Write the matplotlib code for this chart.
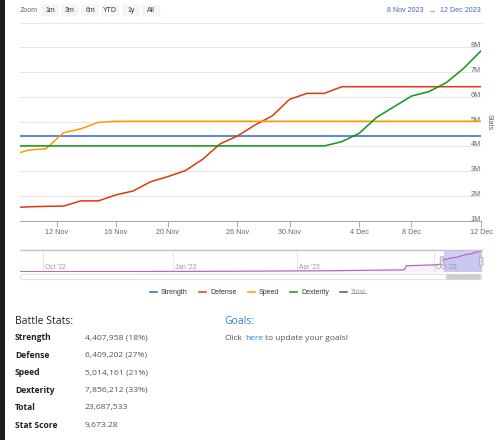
import matplotlib
matplotlib.use('Agg')
import matplotlib.pyplot as plt
from matplotlib.patches import FancyBboxPatch, Rectangle
from matplotlib.lines import Line2D

W, H = 500, 440

# ---------------- data (values in millions) ----------------
point_index = list(range(28))
strength = [4.408, 4.408, 4.408, 4.408, 4.408, 4.408, 4.408, 4.408, 4.408, 4.408,
            4.408, 4.408, 4.408, 4.408, 4.408, 4.408, 4.408, 4.408, 4.408, 4.408,
            4.408, 4.408, 4.408, 4.408, 4.408, 4.408, 4.408, 4.408]
defense = [1.53, 1.56, 1.58, 1.59, 1.80, 1.80, 2.04, 2.20, 2.57, 2.78,
           3.02, 3.48, 4.10, 4.42, 4.86, 5.23, 5.90, 6.14, 6.14, 6.409,
           6.409, 6.409, 6.409, 6.409, 6.409, 6.409, 6.409, 6.409]
speed = [3.65, 3.85, 3.91, 4.55, 4.71, 4.97, 5.014, 5.014, 5.014, 5.014,
         5.014, 5.014, 5.014, 5.014, 5.014, 5.014, 5.014, 5.014, 5.014, 5.014,
         5.014, 5.014, 5.014, 5.014, 5.014, 5.014, 5.014, 5.014]
dexterity = [4.02, 4.02, 4.02, 4.02, 4.02, 4.02, 4.02, 4.02, 4.02, 4.02,
             4.02, 4.02, 4.02, 4.02, 4.02, 4.02, 4.02, 4.02, 4.02, 4.19,
             4.53, 5.17, 5.60, 6.03, 6.21, 6.57, 7.15, 7.856]
series_names = ['Strength', 'Defense', 'Speed', 'Dexterity']
series_colors = ['#3366cc', '#dc3912', '#ff9900', '#109618']

x_tick_labels = ['12 Nov', '16 Nov', '20 Nov', '26 Nov', '30 Nov', '4 Dec', '8 Dec', '12 Dec']
y_tick_values = [1, 2, 3, 4, 5, 6, 7, 8]
y_tick_labels = ['1M', '2M', '3M', '4M', '5M', '6M', '7M', '8M']

# navigator history of total (before the selected window)
nav_hist_pos = [0.0, 0.20, 0.45, 0.67, 0.832, 0.836, 0.895, 0.912]
nav_hist_total = [0.4, 0.5, 0.8, 1.4, 2.4, 6.9, 7.8, 8.6]
nav_labels = ["Oct '22", "Jan '23", "Apr '23", "Oct '23"]

zoom_buttons = ['1m', '3m', '6m', 'YTD', '1y', 'All']
date_from, date_to = '8 Nov 2023', '12 Dec 2023'

stat_labels = ['Strength', 'Defense', 'Speed', 'Dexterity', 'Total', 'Stat Score']
stat_values = ['4,407,958 (18%)', '6,409,202 (27%)', '5,014,161 (21%)',
               '7,856,212 (33%)', '23,687,533', '9,673.28']

# ---------------- figure ----------------
CH = ['Liberation Sans', 'DejaVu Sans']
TX = ['Open Sans', 'DejaVu Sans']
plt.rcParams['font.family'] = CH

fig = plt.figure(figsize=(W / 100, H / 100), dpi=100)
fig.patch.set_facecolor('white')

def fx(px):
    return px / W

def fy(py):
    return 1 - py / H

# main chart
ax = fig.add_axes([fx(20), fy(220.7), 461 / W, 173.4 / H])
ax.patch.set_alpha(0)
for name, vals, col in zip(series_names, [strength, defense, speed, dexterity], series_colors):
    ax.plot(point_index, vals, color=col, lw=1.1, label=name, solid_joinstyle='round')
ax.set_xlim(0.5, 27)
ax.set_ylim(1, 8)
tick_pos = [2.6, 6, 9, 13, 16, 20, 23, 27]
ax.set_xticks(tick_pos)
ax.set_xticklabels(x_tick_labels)
ax.tick_params(axis='x', length=4.3, width=0.7, color='#aaaaaa', pad=1.5,
               labelsize=5.2, labelcolor='#666666')
ax.yaxis.tick_right()
ax.set_yticks(y_tick_values)
ax.set_yticklabels(y_tick_labels)
ax.tick_params(axis='y', length=0, pad=0, labelsize=5.2, labelcolor='#666666')
for lbl in ax.get_yticklabels():
    lbl.set_ha('right')
    lbl.set_va('baseline')
ax.grid(axis='y', color='#e6e6e6', lw=0.75)
ax.set_axisbelow(True)
for s in ['left', 'right', 'top']:
    ax.spines[s].set_visible(False)
ax.spines['bottom'].set_color('#aaaaaa')
ax.spines['bottom'].set_linewidth(0.75)
fig.text(fx(489.3), fy(122.5), 'Stats', rotation=270, ha='center', va='center',
         fontsize=5, color='#666666')

# navigator
nav = fig.add_axes([fx(20), fy(272), 462 / W, 22 / H])
nav.set_xlim(0, 1)
nav.set_ylim(0, 24.2)
nav.set_xticks([])
nav.set_yticks([])
for s in ['left', 'right', 'bottom']:
    nav.spines[s].set_visible(False)
nav.spines['top'].set_color('#c4c4c4')
nav.spines['top'].set_linewidth(1.0)
win_lo, win_hi = (444 - 20) / 462, 1.0
totals = [a + b + c + d for a, b, c, d in zip(strength, defense, speed, dexterity)]
win_pos = [win_lo + (i - 0.5) / 26.5 * (win_hi - win_lo) for i in point_index]
nx = nav_hist_pos + win_pos
ny = nav_hist_total + totals
nav_tick_pos = [(43 - 20) / 462, (172.7 - 20) / 462, (297.3 - 20) / 462, (434 - 20) / 462]
for p, lab in zip(nav_tick_pos, nav_labels):
    nav.axvline(p, color='#e6e6e6', lw=0.7, zorder=0)
    nav.text(p + 0.004, 0.2, lab, transform=nav.get_xaxis_transform(), ha='left',
             va='center', fontsize=4.8, color='#999999')
nav.fill_between(nx, ny, color='#990099', alpha=0.06, lw=0)
nav.plot(nx, ny, color='#b868c0', lw=0.9)
nav.axvspan(win_lo, win_hi, color=(0.42, 0.46, 0.92), alpha=0.33, lw=0)

# legend
handles = [Line2D([], [], color=c, lw=1.1) for c in series_colors]
handles.append(Line2D([], [], color='#555555', lw=1.1))
leg = fig.legend(handles, series_names + ['Total'], loc='center',
                 bbox_to_anchor=(fx(258), fy(292.7)), ncol=5, frameon=False,
                 fontsize=5, handlelength=1.0, handletextpad=0.6, columnspacing=1.6)
for t in leg.get_texts()[:4]:
    t.set_color('#333333')
leg.get_texts()[4].set_color('#999999')

# overlay in pixel coordinates
ov = fig.add_axes([0, 0, 1, 1])
ov.set_xlim(0, W)
ov.set_ylim(H, 0)
ov.axis('off')
ov.set_zorder(10)

ov.add_patch(Rectangle((0, 0), 4.5, H, fc='#1e1e1e', ec='none'))

# top bar
ov.text(20, 10.5, 'Zoom', ha='left', va='center', fontsize=5, color='#666666')
for cx, lab in zip([50, 70, 90, 110, 131, 151.3], zoom_buttons):
    ov.add_patch(FancyBboxPatch((cx - 9, 4.5), 18, 12,
                                boxstyle='round,pad=0,rounding_size=2',
                                fc='#f5f5f5', ec='none'))
    ov.text(cx, 10.5, lab, ha='center', va='center', fontsize=5, color='#333333')
ov.text(386.7, 10.5, date_from, ha='left', va='center', fontsize=5.1, color='#4466cc')
ov.text(432, 10.5, '\u2192', ha='center', va='center', fontsize=5.1, color='#4466cc')
ov.text(440, 10.5, date_to, ha='left', va='center', fontsize=5.1, color='#4466cc')
ov.plot([20, 482], [23.3, 23.3], color='#e8e8e8', lw=0.7)

# navigator handles
for hx, hy in [(442, 260.5), (481.2, 261.3)]:
    ov.add_patch(FancyBboxPatch((hx - 1.8, hy - 3.8), 3.6, 7.6,
                                boxstyle='round,pad=0,rounding_size=0.8',
                                fc='#f2f2f2', ec='#999999', lw=0.5))
    ov.plot([hx - 0.5, hx - 0.5], [hy - 2, hy + 2], color='#999999', lw=0.3)
    ov.plot([hx + 0.5, hx + 0.5], [hy - 2, hy + 2], color='#999999', lw=0.3)

# scrollbar
ov.add_patch(FancyBboxPatch((20, 274.3), 462, 5.4,
                            boxstyle='round,pad=0,rounding_size=2.5',
                            fc='white', ec='#d8d8d8', lw=0.6))
ov.add_patch(FancyBboxPatch((446, 274.3), 35, 5.4,
                            boxstyle='round,pad=0,rounding_size=2.5',
                            fc='#cccccc', ec='none'))

# stats text
ov.text(15, 321.3, 'Battle Stats:', ha='left', va='center', fontsize=7.5,
        color='#222222', family=TX)
row_y = [338, 355.3, 372.7, 390.3, 407.7, 425.7]
for y, lab, val in zip(row_y, stat_labels, stat_values):
    ov.text(15, y, lab, ha='left', va='center', fontsize=6.1, fontweight='bold',
            color='#222222', family=TX)
    ov.text(85, y, val, ha='left', va='center', fontsize=6.1, color='#555555',
            family=TX)
ov.text(224.3, 321.3, 'Goals:', ha='left', va='center', fontsize=7.5,
        color='#2f7fd6', family=TX)
ov.text(224.3, 338, 'Click', ha='left', va='center', fontsize=6.0, color='#555555', family=TX)
ov.text(245, 338, 'here', ha='left', va='center', fontsize=6.0, color='#2f7fd6', family=TX)
ov.text(264.7, 338, 'to update your goals!', ha='left', va='center', fontsize=6.0,
        color='#555555', family=TX)

# strike-through on legend "Total"
fig.canvas.draw()
bb = leg.get_texts()[4].get_window_extent()
inv = fig.transFigure.inverted()
(x0, y0), (x1, y1) = inv.transform([(bb.x0, bb.y0), (bb.x1, bb.y1)])
ym = y0 + (y1 - y0) * 0.45
fig.add_artist(Line2D([x0, x1], [ym, ym], transform=fig.transFigure,
                      color='#999999', lw=0.6))

fig.savefig('out.png', dpi=100)
